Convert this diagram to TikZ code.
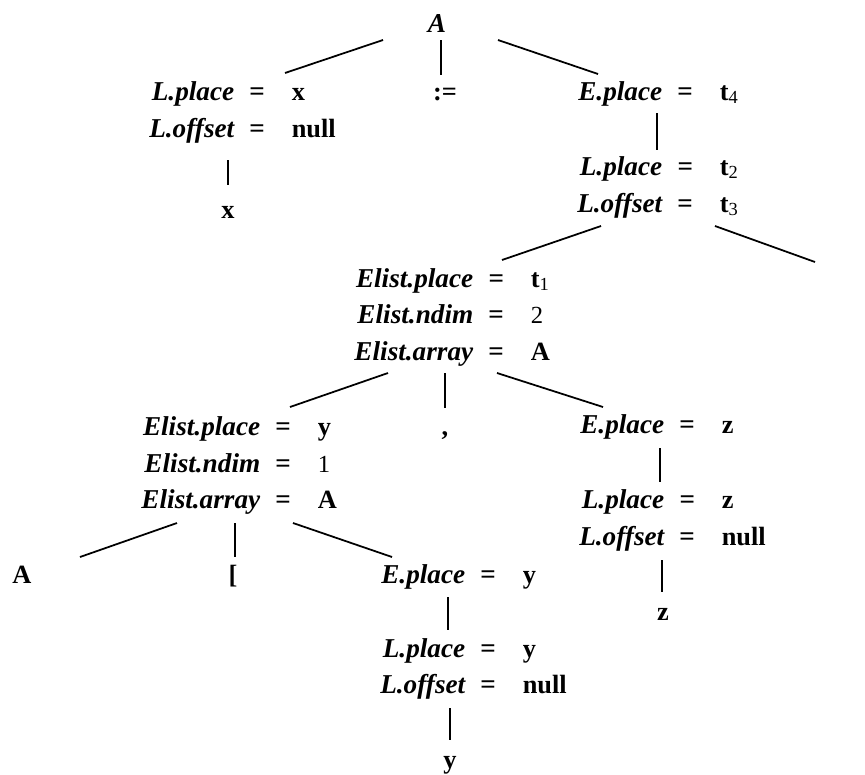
\documentclass[tikz,border=0pt]{standalone}
\usepackage{fontspec}
\setmainfont{Liberation Serif}
\usetikzlibrary{calc}
\newcommand{\labfont}{\fontsize{15.5}{18}\selectfont\bfseries\itshape}
\newcommand{\valfont}{\fontsize{15}{18}\selectfont\rmfamily\bfseries\upshape}
\newcommand{\numfont}{\fontsize{14}{16}\selectfont\rmfamily\mdseries\upshape}
\newcommand{\attr}[2]{\llap{#1\hspace{0.3cm}}=\rlap{\hspace{0.54cm}{\valfont #2}}}
\newcommand{\sub}[1]{\textsubscript{\rmfamily\mdseries #1}}

\begin{document}
\begin{tikzpicture}[x=0.02cm, y=-0.02cm,
    row/.style={anchor=base, inner sep=0pt, font=\labfont},
    leaf/.style={anchor=base, inner sep=0pt, font=\valfont},
    edge/.style={line width=1pt}]
  \useasboundingbox (0,0) rectangle (865,774);

  % root and its children
  \node[row] (root) at (437,32) {A};
  \node[row] (Lx) at (257,100) {\attr{L.place}{x}};
  \node[row] (Lxo) at (257,137) {\attr{L.offset}{null}};
  \node[leaf] (assign) at (445,100) {:=};
  \node[row] (Et4) at (685,100) {\attr{E.place}{t\sub{4}}};
  \node[leaf] (x) at (228,218) {x};

  % L over the array reference
  \node[row] (Lt2) at (685,175) {\attr{L.place}{t\sub{2}}};
  \node[row] (Lt2o) at (685,212) {\attr{L.offset}{t\sub{3}}};
  \coordinate (rend) at (815,262);

  % outer Elist
  \node[row] (El1) at (496,287) {\attr{Elist.place}{t\sub{1}}};
  \node[row] (El1n) at (496,323) {\attr{Elist.ndim}{\numfont 2}};
  \node[row] (El1a) at (496,360) {\attr{Elist.array}{A}};
  \node[leaf] (comma) at (445,435) {,};

  % inner Elist
  \node[row] (Ely) at (283,435) {\attr{Elist.place}{y}};
  \node[row] (Elyn) at (283,472) {\attr{Elist.ndim}{\numfont 1}};
  \node[row] (Elya) at (283,508) {\attr{Elist.array}{A}};
  \node[leaf] (arr) at (22,583) {A};
  \node[leaf] (lbr) at (233,583) {[};

  % index y
  \node[row] (Ey) at (488,583) {\attr{E.place}{y}};
  \node[row] (Ly) at (488,657) {\attr{L.place}{y}};
  \node[row] (Lyo) at (488,693) {\attr{L.offset}{null}};
  \node[leaf] (y) at (450,768) {y};

  % index z
  \node[row] (Ez) at (687,433) {\attr{E.place}{z}};
  \node[row] (Lz) at (687,508) {\attr{L.place}{z}};
  \node[row] (Lzo) at (687,545) {\attr{L.offset}{null}};
  \node[leaf] (z) at (663,620) {z};

  % tree edges
  \draw[edge] ($(root.base)+(-54,8)$) -- ($(Lx.base)+(28,-27)$);
  \draw[edge] ($(root.base)+(4,8)$) -- ($(assign.base)+(-4,-25)$);
  \draw[edge] ($(root.base)+(61,8)$) -- ($(Et4.base)+(-87,-26)$);
  \draw[edge] ($(Lxo.base)+(-29,23)$) -- ($(x.base)+(0,-33)$);
  \draw[edge] ($(Et4.base)+(-28,13)$) -- ($(Lt2.base)+(-28,-25)$);
  \draw[edge] ($(Lt2o.base)+(-84,14)$) -- ($(El1.base)+(6,-27)$);
  \draw[edge] ($(Lt2o.base)+(30,14)$) -- (rend);
  \draw[edge] ($(El1a.base)+(-108,13)$) -- ($(Ely.base)+(7,-28)$);
  \draw[edge] ($(El1a.base)+(-51,13)$) -- ($(comma.base)+(0,-27)$);
  \draw[edge] ($(El1a.base)+(1,13)$) -- ($(Ez.base)+(-84,-26)$);
  \draw[edge] ($(Elya.base)+(-106,15)$) -- ($(arr.base)+(58,-26)$);
  \draw[edge] ($(Elya.base)+(-48,15)$) -- ($(lbr.base)+(2,-26)$);
  \draw[edge] ($(Elya.base)+(10,15)$) -- ($(Ey.base)+(-96,-26)$);
  \draw[edge] ($(Ey.base)+(-40,14)$) -- ($(Ly.base)+(-40,-27)$);
  \draw[edge] ($(Lyo.base)+(-38,15)$) -- ($(y.base)+(0,-28)$);
  \draw[edge] ($(Ez.base)+(-27,15)$) -- ($(Lz.base)+(-27,-26)$);
  \draw[edge] ($(Lzo.base)+(-25,15)$) -- ($(z.base)+(-1,-28)$);
\end{tikzpicture}
\end{document}
